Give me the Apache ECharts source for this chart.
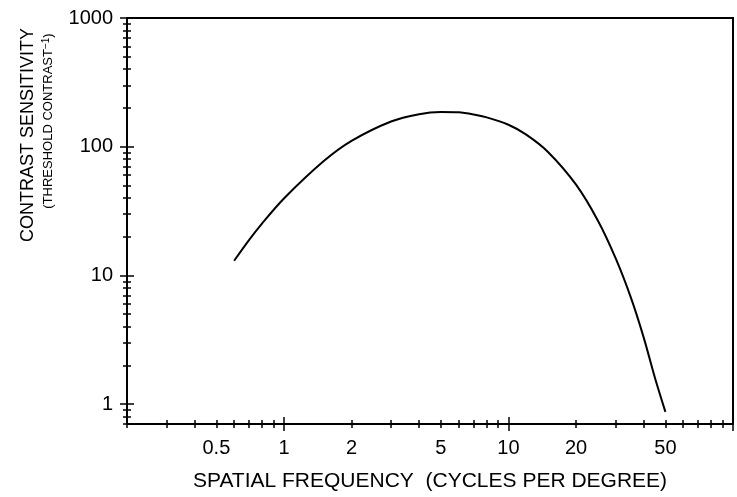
<!DOCTYPE html>
<html>
<head>
<meta charset="utf-8">
<title>Contrast sensitivity</title>
<script src="https://cdn.jsdelivr.net/npm/echarts@6/dist/echarts.min.js"></script>
<style>
  html, body { margin: 0; padding: 0; background: #fff; }
  #chart { width: 737px; height: 497px; }
</style>
</head>
<body>
<div id="chart"></div>
<script>
// curve: spatial frequency (c/deg) -> contrast sensitivity
const freq = [0.6, 0.7, 0.8, 1, 1.5, 2, 3, 4, 5, 6, 7, 8, 10, 12, 15, 20, 25, 30, 35, 40, 45, 50]
const sensitivity = [13, 18.9, 25.4, 39.6, 77, 111, 157, 179, 186, 185, 178, 169, 148, 124, 91, 50.7, 26.7, 13.6, 6.8, 3.3, 1.58, 0.87]

// tick positions and labels
const xLabels = [0.5, 1, 2, 5, 10, 20, 50]
const xMajor = [1, 10, 100]
const xMinor = [0.2, 0.3, 0.4, 0.5, 0.6, 0.7, 0.8, 0.9, 2, 3, 4, 5, 6, 7, 8, 9, 20, 30, 40, 50, 60, 70, 80, 90]
const yLabels = [1, 10, 100, 1000]
const yMajor = [1, 10, 100, 1000]
const yMinor = [0.7, 0.8, 0.9, 2, 3, 4, 5, 6, 7, 8, 9, 20, 30, 40, 50, 60, 70, 80, 90, 200, 300, 400, 500, 600, 700, 800, 900]

const font = '"Liberation Sans", Arial, sans-serif'
const black = '#000'

// one axis layer; several layers stacked on the same side make the crossed ticks
function layer(range, ticks, len, inside, extra) {
  return Object.assign({
    type: 'log',
    logBase: 10,
    min: range[0],
    max: range[1],
    axisLine: { show: true, lineStyle: { color: black, width: 2 } },
    axisTick: { show: true, inside: inside, length: len, customValues: ticks, lineStyle: { color: black, width: 1.5 } },
    axisLabel: { show: false },
    splitLine: { show: false },
    minorTick: { show: false },
    minorSplitLine: { show: false }
  }, extra)
}

const xRange = [0.2, 100]
const yRange = [0.7, 1000]

const chart = echarts.init(document.getElementById('chart'))
chart.setOption({
  animation: false,
  backgroundColor: '#fff',
  grid: {
    left: 127,
    right: 4,
    top: 18,
    bottom: 69,
    show: true,
    borderColor: black,
    borderWidth: 2
  },
  xAxis: [
    layer(xRange, xMinor.concat(xMajor), 4, false, {
      position: 'bottom',
      axisLabel: {
        show: true,
        customValues: xLabels,
        formatter: v => String(v),
        color: black,
        fontFamily: font,
        fontSize: 20,
        margin: 14
      },
      name: 'SPATIAL FREQUENCY  (CYCLES PER DEGREE)',
      nameLocation: 'middle',
      nameGap: 47,
      nameTextStyle: { color: black, fontFamily: font, fontSize: 21 }
    }),
    layer(xRange, xMinor.concat(xMajor), 4, true, { position: 'bottom' }),
    layer(xRange, xMajor, 7, false, { position: 'bottom' }),
    layer(xRange, xMajor, 7, true, { position: 'bottom' })
  ],
  yAxis: [
    layer(yRange, yMinor.concat(yMajor), 4, false, {
      position: 'left',
      axisLabel: {
        show: true,
        customValues: yLabels,
        formatter: v => String(v),
        color: black,
        fontFamily: font,
        fontSize: 20,
        margin: 14
      },
      name: 'CONTRAST SENSITIVITY',
      nameLocation: 'middle',
      nameRotate: 90,
      nameGap: 90,
      nameTextStyle: { color: black, fontFamily: font, fontSize: 18, padding: [0, 0, 0, 172] }
    }),
    layer(yRange, yMinor.concat(yMajor), 4, true, {
      position: 'left',
      name: '(THRESHOLD CONTRAST{sup|−1})',
      nameLocation: 'middle',
      nameRotate: 90,
      nameGap: 72,
      nameTextStyle: {
        color: black,
        fontFamily: font,
        fontSize: 13,
        padding: [0, 0, 0, 200],
        rich: { sup: { fontFamily: font, fontSize: 10, verticalAlign: 'top', padding: [0, 0, 4, 0] } }
      }
    }),
    layer(yRange, yMajor, 7, false, { position: 'left' }),
    layer(yRange, yMajor, 7, true, { position: 'left' })
  ],
  series: [
    {
      type: 'line',
      data: freq.map((f, i) => [f, sensitivity[i]]),
      smooth: 0.3,
      showSymbol: false,
      lineStyle: { color: black, width: 2 },
      xAxisIndex: 0,
      yAxisIndex: 0
    }
  ]
})
</script>
</body>
</html>
